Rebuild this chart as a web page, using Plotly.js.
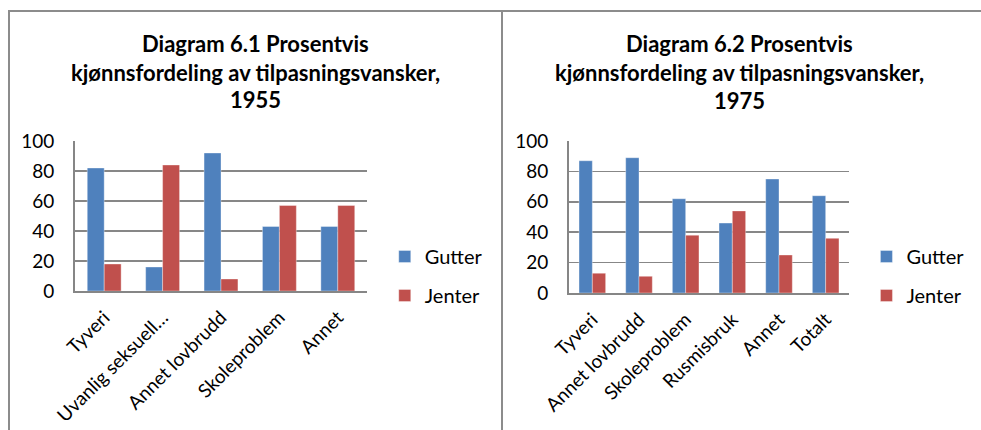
<!DOCTYPE html>
<html>
<head>
<meta charset="utf-8">
<script src="https://cdn.plot.ly/plotly-3.0.1.min.js"></script>
<style>
  html, body { margin: 0; padding: 0; background: #fff; width: 981px; height: 430px; overflow: hidden; }
  .line { position: absolute; background: #8c8c8c; }
  .chart { position: absolute; top: 0; height: 430px; }
</style>
</head>
<body>
<div class="line" style="left:8px; top:10px; width:973px; height:2px;"></div>
<div class="line" style="left:8px; top:10px; width:2px; height:420px;"></div>
<div class="line" style="left:501px; top:10px; width:2px; height:420px;"></div>
<div id="c1" class="chart" style="left:0px; width:500px;"></div>
<div id="c2" class="chart" style="left:490px; width:491px;"></div>
<script>
// ---- Data ----
const seriesNames = ["Gutter", "Jenter"];
const colors = ["#4F81BD", "#C0504D"];

const title1 = ["Diagram 6.1 Prosentvis", "kjønnsfordeling av tilpasningsvansker,", "1955"];
const categories1 = ["Tyveri", "Uvanlig seksuell…", "Annet lovbrudd", "Skoleproblem", "Annet"];
const gutter1 = [82, 16, 92, 43, 43];
const jenter1 = [18, 84, 8, 57, 57];

const title2 = ["Diagram 6.2 Prosentvis", "kjønnsfordeling av tilpasningsvansker,", "1975"];
const categories2 = ["Tyveri", "Annet lovbrudd", "Skoleproblem", "Rusmisbruk", "Annet", "Totalt"];
const gutter2 = [87, 89, 62, 46, 75, 64];
const jenter2 = [13, 11, 38, 54, 25, 36];

const yTicks = [0, 20, 40, 60, 80, 100];

const FONT = "Lato, 'Open Sans', sans-serif";

function makeChart(id, W, m, cats, g, j, titleLines, titleCx, titleYs, legendPx, bargap) {
  const pw = W - m.l - m.r, ph = 430 - m.t - m.b;
  const px = x => (x - m.l) / pw;
  const py = y => (430 - m.b - y) / ph;
  const traces = [g, j].map((vals, i) => ({
    type: "bar", x: cats, y: vals, name: seriesNames[i],
    legendgroup: "g" + i,
    marker: { color: colors[i], line: { color: "rgba(255,255,255,0.35)", width: 1 } },
    hoverinfo: "skip"
  }));
  const annotations = titleLines.map((t, k) => ({
    text: "<b>" + t + "</b>", xref: "paper", yref: "paper",
    x: px(titleCx), y: py(titleYs[k]), xanchor: "center", yanchor: "middle",
    showarrow: false, font: { family: FONT, size: 22, color: "#000" }
  }));
  const layout = {
    width: W, height: 430,
    margin: m,
    paper_bgcolor: "rgba(0,0,0,0)", plot_bgcolor: "rgba(0,0,0,0)",
    font: { family: FONT, size: 19, color: "#000" },
    barmode: "group", bargap: bargap, bargroupgap: 0,
    showlegend: true,
    legend: {
      x: px(legendPx.x), y: py(legendPx.y), xanchor: "left", yanchor: "top",
      traceorder: "grouped", tracegroupgap: 10,
      font: { family: FONT, size: 20, color: "#000" },
      bgcolor: "rgba(0,0,0,0)"
    },
    xaxis: {
      type: "category", tickangle: -45, showgrid: false,
      showline: true, linecolor: "#868686", linewidth: 2,
      ticks: "", ticklabelstandoff: 6,
      tickfont: { family: FONT, size: 19, color: "#000" },
      fixedrange: true
    },
    yaxis: {
      range: [0, 100], tickvals: yTicks, ticktext: yTicks.map(String),
      showgrid: true, gridcolor: "#878787", gridwidth: 1.6,
      showline: true, linecolor: "#868686", linewidth: 2,
      zeroline: false, ticks: "", ticklabelstandoff: 15,
      tickfont: { family: FONT, size: 19, color: "#000" },
      fixedrange: true
    },
    annotations: annotations
  };
  Plotly.newPlot(id, traces, layout, { staticPlot: true, displayModeBar: false });
}

makeChart("c1", 500, { l: 75, r: 129, t: 141, b: 139, pad: 0 },
  categories1, gutter1, jenter1, title1, 258, [43, 72, 100], { x: 389, y: 237 }, 0.42);
makeChart("c2", 491, { l: 79, r: 123, t: 141, b: 137, pad: 0 },
  categories2, gutter2, jenter2, title2, 255, [43, 72, 100], { x: 386, y: 237 }, 0.43);
</script>
</body>
</html>
